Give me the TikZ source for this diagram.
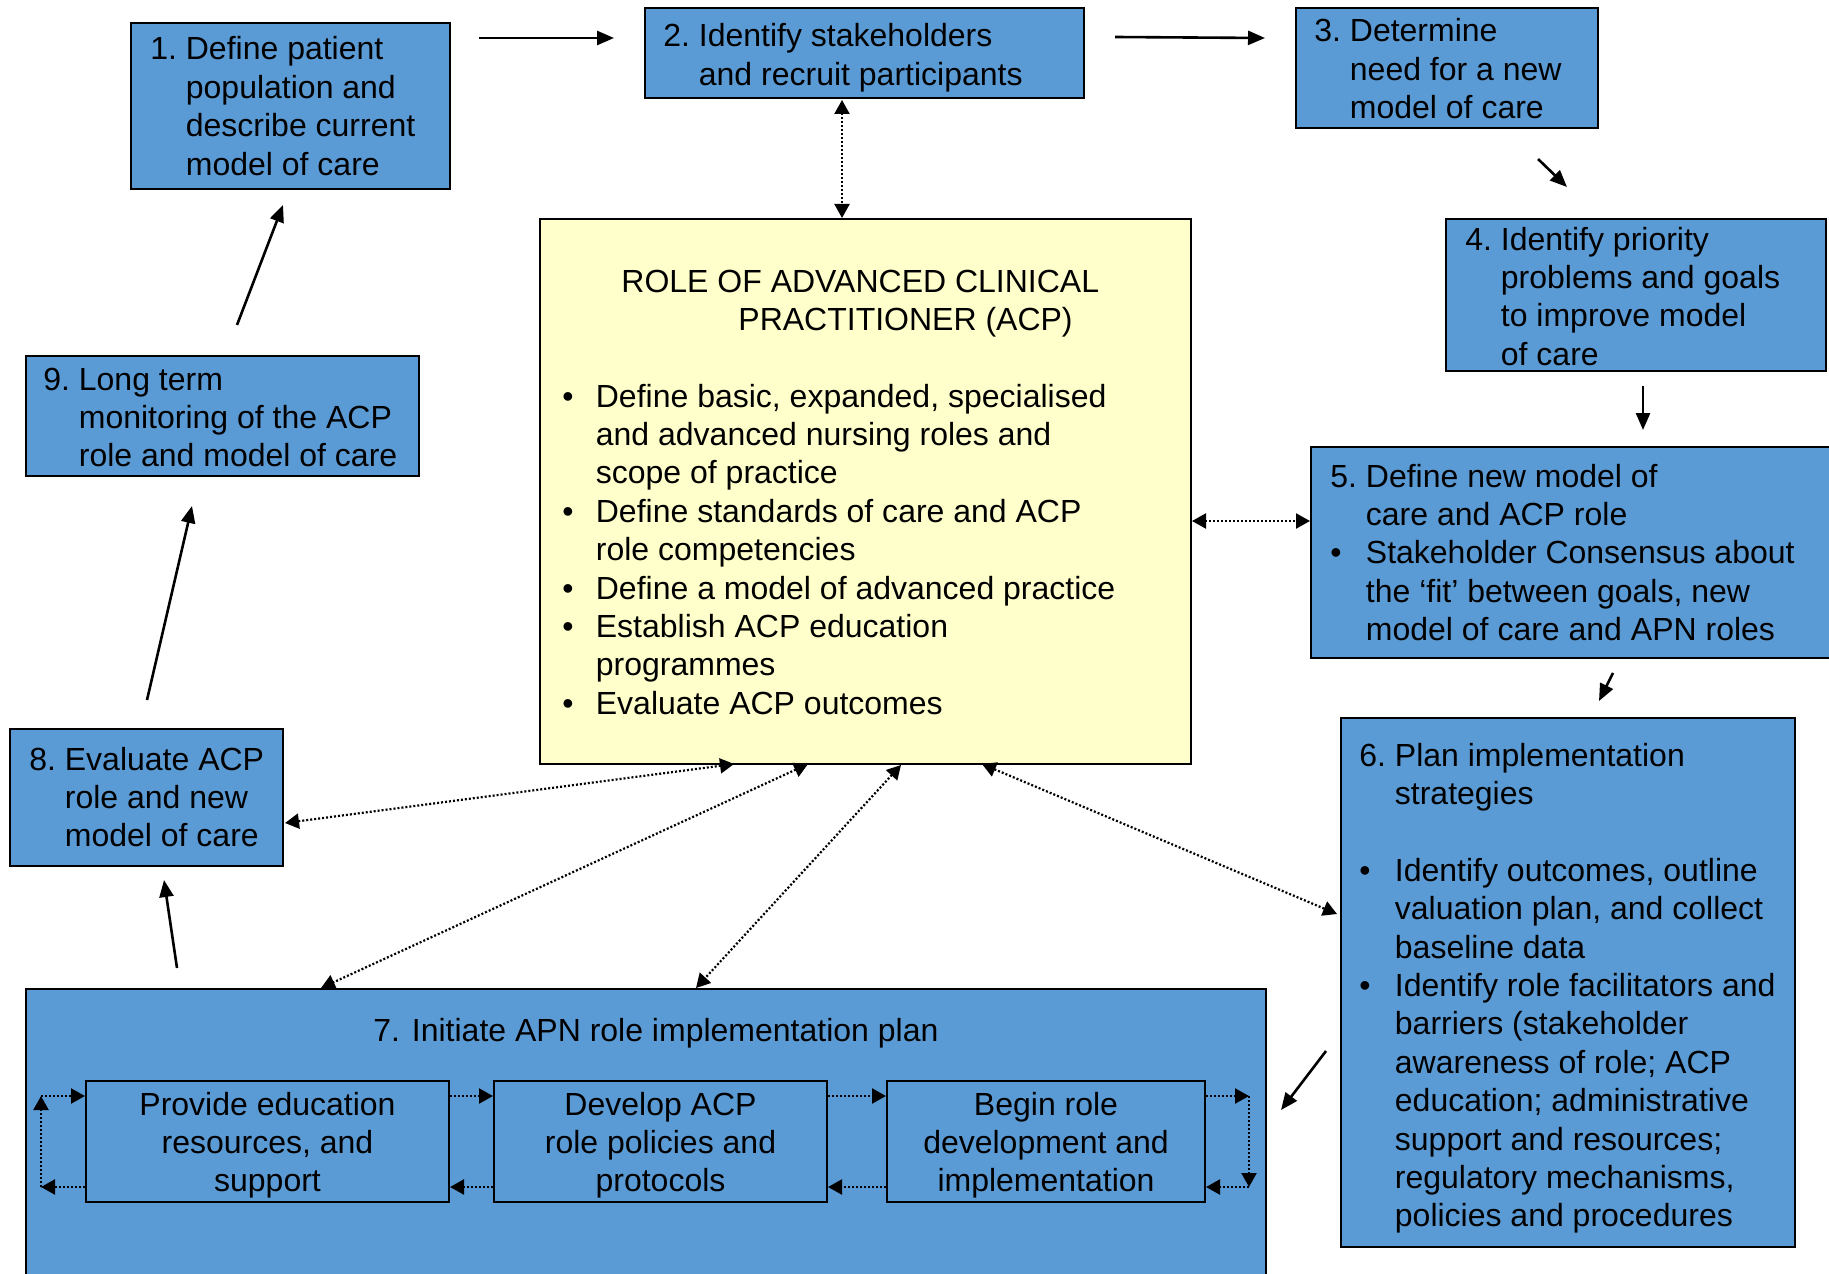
\documentclass[tikz,border=0pt]{standalone}
\usepackage{fontspec}
\setmainfont{Liberation Sans}
\usetikzlibrary{arrows.meta,fit}
\definecolor{boxblue}{RGB}{91,155,213}
\definecolor{acpyellow}{RGB}{255,255,204}
\newcommand{\hangtab}[2][17.75pt]{\begin{tabular}[t]{@{}p{#1}@{}l@{}}#2\end{tabular}}
\newcommand{\ctab}[1]{\begin{tabular}[t]{@{}c@{}}#1\end{tabular}}
\begin{document}
\begin{tikzpicture}[x=0.5pt,y=-0.5pt,
  font=\fontsize{16}{19.2}\selectfont,
  bluebox/.style={draw=black, line width=1pt, fill=boxblue, inner sep=0pt},
  acpbox/.style={draw=black, line width=1pt, fill=acpyellow, inner sep=0pt},
  innerbox/.style={draw=black, line width=1pt, inner sep=0pt},
  txt/.style={anchor=base west, inner sep=0pt},
  ctxt/.style={anchor=base, inner sep=0pt},
  flow/.style={line width=1.3pt, -{Triangle[length=8.5pt,width=7pt]}},
  dlink/.style={line width=1.1pt, dash pattern=on 1pt off 1pt, {Triangle[length=7pt,width=7.5pt]}-{Triangle[length=7pt,width=7.5pt]}},
  cyc/.style={line width=1.1pt, dash pattern=on 1pt off 1pt, -{Triangle[length=7pt,width=7.5pt]}},
]
\useasboundingbox (0,0) rectangle (1829,1273);
\clip (0,0) rectangle (1829,1273);

% boxes
\node[bluebox, fit={(131,23) (450,189)}] (b1) {};
\node[bluebox, fit={(645,8) (1084,98)}] (b2) {};
\node[bluebox, fit={(1296,8) (1598,128)}] (b3) {};
\node[bluebox, fit={(1446,219) (1826,371)}] (b4) {};
\node[bluebox, fit={(1311,447) (1845,658)}] (b5) {};
\node[bluebox, fit={(1341,718) (1795,1247)}] (b6) {};
\node[bluebox, fit={(26,989) (1266,1300)}] (b7) {};
\node[bluebox, fit={(10,729) (283,866)}] (b8) {};
\node[bluebox, fit={(26,356) (419,476)}] (b9) {};
\node[acpbox, fit={(540,219) (1191,764)}] (acp) {};
\node[innerbox, fit={(86,1081) (449,1202)}] (s1) {};
\node[innerbox, fit={(494,1081) (827,1202)}] (s2) {};
\node[innerbox, fit={(887,1081) (1205,1202)}] (s3) {};

% texts
\node[txt] (t1) at (150,60) {\hangtab{1. & Define patient\\ & population and\\ & describe current\\ & model of care}};
\node[txt] (t2) at (663,47) {\hangtab{2. & Identify stakeholders\\ & and recruit participants}};
\node[txt] (t3) at (1314,42) {\hangtab{3. & Determine\\ & need for a new\\ & model of care}};
\node[txt] (t4) at (1465,250) {\hangtab{4. & Identify priority\\ & problems and goals\\ & to improve model\\ & of care}};
\node[txt] (t5) at (1330,487) {\hangtab{5. & Define new model of\\ & care and ACP role\\ • & Stakeholder Consensus about\\ & the ‘fit’ between goals, new\\ & model of care and APN roles}};
\node[txt] (t6) at (1359,766) {\hangtab{6. & Plan implementation\\ & strategies\\ & \\ • & Identify outcomes, outline\\ & valuation plan, and collect\\ & baseline data\\ • & Identify role facilitators and\\ & barriers (stakeholder\\ & awareness of role; ACP\\ & education; administrative\\ & support and resources;\\ & regulatory mechanisms,\\ & policies and procedures}};
\node[txt] (t7) at (373,1041) {7. Initiate APN role implementation plan};
\node[ctxt] (ts1) at (267.5,1115) {\ctab{Provide education\\resources, and\\support}};
\node[ctxt] (ts2) at (660.5,1115) {\ctab{Develop ACP\\role policies and\\protocols}};
\node[ctxt] (ts3) at (1046,1115) {\ctab{Begin role\\development and\\implementation}};
\node[txt] (t8) at (29,770) {\hangtab{8. & Evaluate ACP\\ & role and new\\ & model of care}};
\node[txt] (t9) at (43,390) {\hangtab{9. & Long term\\ & monitoring of the ACP\\ & role and model of care}};
\node[txt] (acpt) at (621,292) {\begin{tabular}[t]{@{}l@{}}ROLE OF ADVANCED CLINICAL\\\hspace*{58.5pt}PRACTITIONER (ACP)\end{tabular}};
\node[txt] (acpl) at (562,407) {\hangtab[16.75pt]{• & Define basic, expanded, specialised\\ & and advanced nursing roles and\\ & scope of practice\\ • & Define standards of care and ACP\\ & role competencies\\ • & Define a model of advanced practice\\ • & Establish ACP education\\ & programmes\\ • & Evaluate ACP outcomes}};

% solid flow arrows
\coordinate (a12s) at (479,38);  \coordinate (a12e) at (614,38);
\coordinate (a23s) at (1115,37); \coordinate (a23e) at (1265,38);
\coordinate (a34s) at (1538,159); \coordinate (a34e) at (1567,187);
\coordinate (a45s) at (1643,386); \coordinate (a45e) at (1643,430);
\coordinate (a56s) at (1613,673); \coordinate (a56e) at (1599,701);
\coordinate (a67s) at (1326,1051); \coordinate (a67e) at (1281,1110);
\coordinate (a78s) at (177,968); \coordinate (a78e) at (164,880);
\coordinate (a89s) at (147,700); \coordinate (a89e) at (192,506);
\coordinate (a91s) at (237,325); \coordinate (a91e) at (283,205);
\draw[flow] (a12s) -- (a12e);
\draw[flow] (a23s) -- (a23e);
\draw[flow] (a34s) -- (a34e);
\draw[flow] (a45s) -- (a45e);
\draw[flow] (a56s) -- (a56e);
\draw[flow] (a67s) -- (a67e);
\draw[flow] (a78s) -- (a78e);
\draw[flow] (a89s) -- (a89e);
\draw[flow] (a91s) -- (a91e);

% dotted links to ACP box
\coordinate (l2a) at (842,100); \coordinate (l2b) at (842,218);
\coordinate (l5a) at (1192,521); \coordinate (l5b) at (1310,521);
\coordinate (l8a) at (734,764); \coordinate (l8b) at (285,823);
\coordinate (l7a) at (808,764); \coordinate (l7b) at (321,988);
\coordinate (l7c) at (901,765); \coordinate (l7d) at (696,988);
\coordinate (l6a) at (982,764); \coordinate (l6b) at (1337,914);
\draw[dlink] (l2a) -- (l2b);
\draw[dlink] (l5a) -- (l5b);
\draw[dlink] (l8a) -- (l8b);
\draw[dlink] (l7a) -- (l7b);
\draw[dlink] (l7c) -- (l7d);
\draw[dlink] (l6a) -- (l6b);

% loop inside box 7
\coordinate (ytop) at (0,1096); \coordinate (ybot) at (0,1187);
\coordinate (cl) at (41,0); \coordinate (cr) at (1249,0);
\draw[cyc] (s1.west |- ybot) -- (cl |- ybot);
\draw[cyc] (cl |- ybot) -- (cl |- ytop);
\draw[cyc] (cl |- ytop) -- (s1.west |- ytop);
\draw[cyc] (s1.east |- ytop) -- (s2.west |- ytop);
\draw[cyc] (s2.west |- ybot) -- (s1.east |- ybot);
\draw[cyc] (s2.east |- ytop) -- (s3.west |- ytop);
\draw[cyc] (s3.west |- ybot) -- (s2.east |- ybot);
\draw[cyc] (s3.east |- ytop) -- (cr |- ytop);
\draw[cyc] (cr |- ytop) -- (cr |- ybot);
\draw[cyc] (cr |- ybot) -- (s3.east |- ybot);
\end{tikzpicture}
\end{document}
